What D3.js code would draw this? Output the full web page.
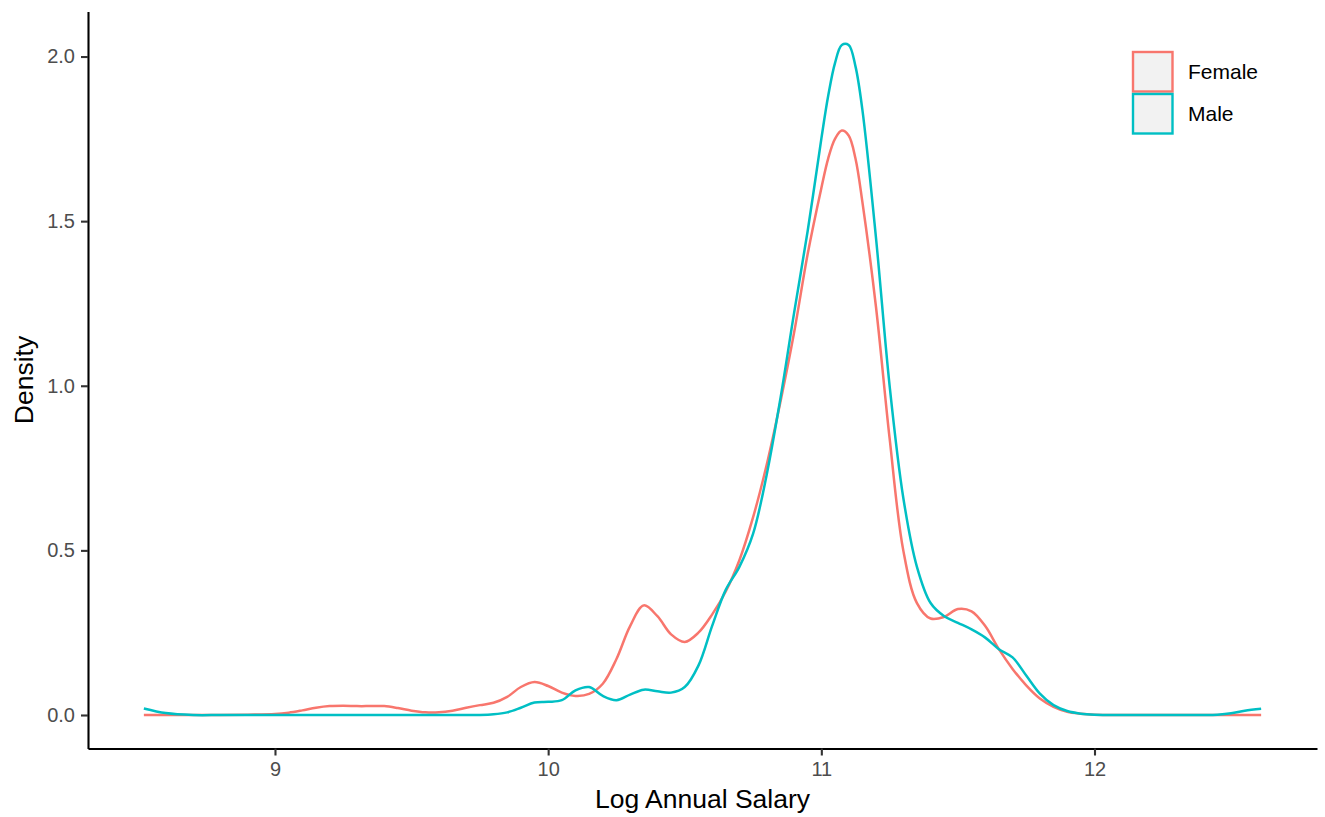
<!DOCTYPE html>
<html>
<head>
<meta charset="utf-8">
<script src="https://cdn.jsdelivr.net/npm/d3@7"></script>
<style>
  html, body { margin: 0; padding: 0; background: #ffffff; }
  svg { display: block; font-family: "Liberation Sans", Arial, Helvetica, sans-serif; }
</style>
</head>
<body>
<svg id="chart" width="1325" height="817"></svg>
<script>
// Kernel density estimates of log annual salary, evaluated on a shared grid
const logSalary = [
  8.52, 8.6, 8.7, 8.8, 8.9, 9.0, 9.05, 9.1, 9.15, 9.2, 9.25, 9.3, 9.35, 9.4, 9.45,
  9.5, 9.55, 9.6, 9.65, 9.7, 9.75, 9.8, 9.85, 9.9, 9.95, 10.0, 10.05, 10.1, 10.15,
  10.2, 10.25, 10.3, 10.35, 10.4, 10.45, 10.5, 10.55, 10.6, 10.65, 10.7, 10.75,
  10.8, 10.85, 10.9, 10.95, 11.0, 11.025, 11.05, 11.075, 11.1, 11.125, 11.15, 11.2,
  11.25, 11.3, 11.35, 11.4, 11.45, 11.5, 11.55, 11.6, 11.65, 11.7, 11.75, 11.8,
  11.85, 11.9, 11.95, 12.0, 12.1, 12.2, 12.3, 12.4, 12.45, 12.5, 12.55, 12.61
];

const femaleDensity = [
  0, 0, 0, 0, 0.001, 0.003, 0.007, 0.014, 0.022, 0.027, 0.028, 0.027, 0.027, 0.027, 0.021,
  0.013, 0.008, 0.008, 0.013, 0.022, 0.03, 0.037, 0.055, 0.085, 0.1, 0.088, 0.068, 0.058, 0.064,
  0.095, 0.17, 0.27, 0.333, 0.30, 0.245, 0.222, 0.25, 0.305, 0.375, 0.47, 0.6,
  0.76, 0.95, 1.16, 1.40, 1.60, 1.69, 1.75, 1.775, 1.76, 1.69, 1.56, 1.24,
  0.84, 0.50, 0.34, 0.293, 0.298, 0.322, 0.315, 0.27, 0.2, 0.14, 0.09, 0.05,
  0.025, 0.01, 0.004, 0.001, 0, 0, 0, 0, 0, 0, 0, 0
];

const maleDensity = [
  0.02, 0.006, 0, 0, 0, 0, 0, 0, 0, 0, 0, 0, 0, 0, 0,
  0, 0, 0, 0, 0, 0, 0.002, 0.008, 0.022, 0.038, 0.04, 0.045, 0.075, 0.085,
  0.058, 0.045, 0.062, 0.077, 0.072, 0.068, 0.085, 0.15, 0.27, 0.38, 0.45, 0.55,
  0.73, 0.96, 1.22, 1.47, 1.75, 1.88, 1.98, 2.035, 2.035, 1.97, 1.84, 1.45,
  1.0, 0.66, 0.45, 0.34, 0.30, 0.28, 0.26, 0.235, 0.2, 0.175, 0.12, 0.065,
  0.03, 0.012, 0.004, 0.001, 0, 0, 0, 0, 0.001, 0.005, 0.013, 0.019
];

const groups = ["Female", "Male"];
const groupColors = ["#F8766D", "#00BFC4"];
const xTicks = [9, 10, 11, 12];
const yTicks = [0, 0.5, 1.0, 1.5, 2.0];

const svg = d3.select("#chart");
const panel = { left: 88, right: 1317, top: 11.5, bottom: 748.5 };

// 5% expansion around the data range on both axes
const xMin = d3.min(logSalary), xMax = d3.max(logSalary);
const xPad = (xMax - xMin) * 0.05;
const yMax = d3.max([...femaleDensity, ...maleDensity]);
const yPad = yMax * 0.05;

const x = d3.scaleLinear().domain([xMin - xPad, xMax + xPad]).range([panel.left, panel.right]);
const y = d3.scaleLinear().domain([-yPad, yMax + yPad]).range([panel.bottom, panel.top]);

const series = [
  { name: groups[0], color: groupColors[0], values: femaleDensity },
  { name: groups[1], color: groupColors[1], values: maleDensity }
];

const line = d3.line()
  .x(d => x(d[0]))
  .y(d => y(Math.max(0, d[1])))
  .curve(d3.curveCatmullRom.alpha(0.5));

svg.append("g")
  .selectAll("path")
  .data(series)
  .join("path")
  .attr("fill", "none")
  .attr("stroke", d => d.color)
  .attr("stroke-width", 2.5)
  .attr("stroke-linejoin", "round")
  .attr("d", d => line(logSalary.map((v, i) => [v, d.values[i]])));

// Axes
const xAxis = svg.append("g")
  .attr("transform", `translate(0,${panel.bottom})`)
  .call(d3.axisBottom(x).tickValues(xTicks).tickFormat(d3.format("d"))
    .tickSizeInner(7).tickSizeOuter(0).tickPadding(6));

const yAxis = svg.append("g")
  .attr("transform", `translate(${panel.left},0)`)
  .call(d3.axisLeft(y).tickValues(yTicks).tickFormat(d3.format(".1f"))
    .tickSizeInner(7).tickSizeOuter(0).tickPadding(6));

[xAxis, yAxis].forEach(g => {
  g.select(".domain").attr("stroke", "#000").attr("stroke-width", 2.1);
  g.selectAll(".tick line").attr("stroke", "#333333").attr("stroke-width", 2.1);
  g.selectAll(".tick text")
    .attr("fill", "#4D4D4D")
    .attr("font-size", 20)
    .attr("font-family", "'Liberation Sans', Arial, Helvetica, sans-serif");
});

// Axis titles
svg.append("text")
  .attr("x", (panel.left + panel.right) / 2)
  .attr("y", 808)
  .attr("text-anchor", "middle")
  .attr("font-size", 26.5)
  .attr("fill", "#000")
  .text("Log Annual Salary");

svg.append("text")
  .attr("transform", `translate(33,${(panel.top + panel.bottom) / 2}) rotate(-90)`)
  .attr("text-anchor", "middle")
  .attr("font-size", 26.5)
  .attr("fill", "#000")
  .text("Density");

// Legend
const legend = svg.append("g").attr("transform", "translate(1133,52)");
const keySize = 39.5, keyGap = 42;
const item = legend.selectAll("g")
  .data(series)
  .join("g")
  .attr("transform", (d, i) => `translate(0,${i * keyGap})`);

item.append("rect")
  .attr("width", keySize)
  .attr("height", keySize)
  .attr("fill", "#F2F2F2")
  .attr("stroke", d => d.color)
  .attr("stroke-width", 2.4);

item.append("text")
  .attr("x", 55)
  .attr("y", keySize / 2)
  .attr("dy", "0.35em")
  .attr("font-size", 21)
  .attr("fill", "#000")
  .text(d => d.name);
</script>
</body>
</html>
